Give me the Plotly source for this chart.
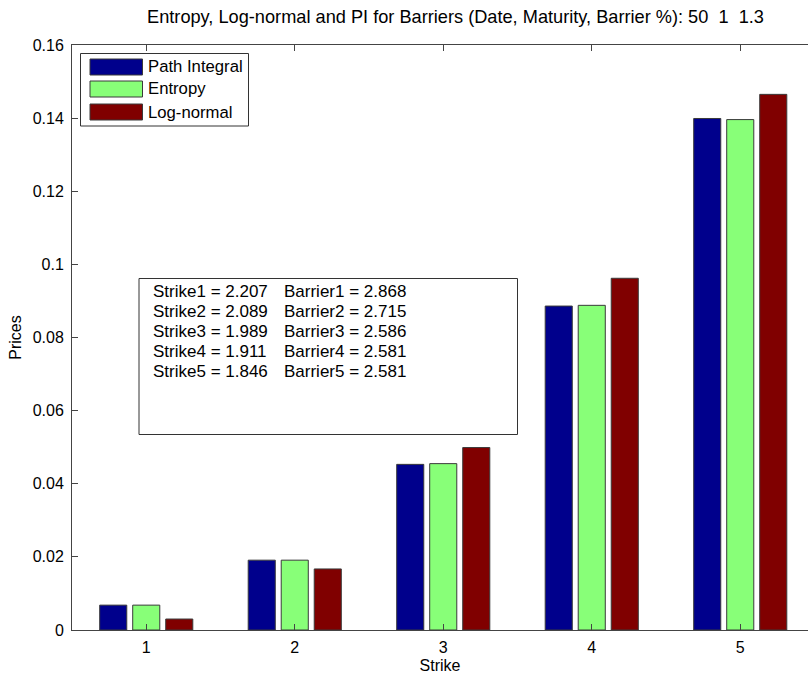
import plotly.graph_objects as go

strikes_cat = [1, 2, 3, 4, 5]
path_integral = [0.0068, 0.0191, 0.0453, 0.0886, 0.1399]
entropy = [0.0068, 0.0191, 0.0455, 0.0888, 0.1396]
log_normal = [0.0030, 0.0167, 0.0499, 0.0962, 0.1465]
series_names = ["Path Integral", "Entropy", "Log-normal"]
series_colors = ["#00008C", "#88FF78", "#800000"]
strike_vals = ["2.207", "2.089", "1.989", "1.911", "1.846"]
barrier_vals = ["2.868", "2.715", "2.586", "2.581", "2.581"]
title_text = "Entropy, Log-normal and PI for Barriers (Date, Maturity, Barrier %): 50  1  1.3"

W, H = 808, 674
ML, MR, MT, MB = 72, 0, 45, 44
PW, PH = W - ML - MR, H - MT - MB

def px(x):
    return (x - ML) / PW

def py(y):
    return (H - MB - y) / PH

FONT = "Liberation Sans, Arial, sans-serif"
fig = go.Figure()
for name, vals, col in zip(series_names, [path_integral, entropy, log_normal], series_colors):
    fig.add_trace(go.Bar(x=strikes_cat, y=vals, name=name, marker_color=col,
                         marker_line=dict(color="#3a3a3a", width=1), showlegend=False))

shapes = []
annotations = []
# legend box
shapes.append(dict(type="rect", xref="paper", yref="paper", x0=px(80.5), x1=px(248.5), y0=py(126), y1=py(53.5),
                   line=dict(color="#333", width=1), fillcolor="white", layer="above"))
rows = [(59, 75), (81, 97), (104, 120)]
for (y0, y1), name, col in zip(rows, series_names, series_colors):
    shapes.append(dict(type="rect", xref="paper", yref="paper", x0=px(90), x1=px(142.5), y0=py(y1), y1=py(y0),
                       line=dict(color="#3a3a3a", width=1), fillcolor=col, layer="above"))
    annotations.append(dict(xref="paper", yref="paper", x=px(146), y=py((y0 + y1) / 2), text=name, showarrow=False,
                            xanchor="left", yanchor="middle", font=dict(size=16.7, color="black", family=FONT)))
# text box
shapes.append(dict(type="rect", xref="paper", yref="paper", x0=px(139), x1=px(517.5), y0=py(434.5), y1=py(278.5),
                   line=dict(color="#333", width=1), fillcolor="white", layer="above"))
row_y = [291.5, 311.5, 331.5, 351.5, 371.5]
for i, (s, b, yy) in enumerate(zip(strike_vals, barrier_vals, row_y)):
    annotations.append(dict(xref="paper", yref="paper", x=px(150.5), y=py(yy), text=f"Strike{i+1} = {s}",
                            showarrow=False, xanchor="left", yanchor="middle",
                            font=dict(size=17, color="black", family=FONT)))
    annotations.append(dict(xref="paper", yref="paper", x=px(281.5), y=py(yy), text=f"Barrier{i+1} = {b}",
                            showarrow=False, xanchor="left", yanchor="middle",
                            font=dict(size=17, color="black", family=FONT)))

fig.update_layout(
    width=W, height=H,
    margin=dict(l=ML, r=MR, t=MT, b=MB, pad=0),
    paper_bgcolor="white", plot_bgcolor="white",
    barmode="group", bargap=0.333, bargroupgap=0.18,
    title=dict(text=title_text, x=455.5 / W, xanchor="center", y=1 - 17 / H, yanchor="middle",
               font=dict(size=18.2, color="black", family=FONT)),
    font=dict(family=FONT, size=16, color="black"),
    shapes=shapes, annotations=annotations,
    xaxis=dict(range=[0.5, 0.5 + PW / 148.5], tickvals=strikes_cat, ticks="inside", ticklen=6,
               tickcolor="#444", showline=True, linecolor="#444", linewidth=1, mirror="ticks",
               showgrid=False, zeroline=False, ticklabelstandoff=3,
               title=dict(text="Strike", standoff=5, font=dict(size=16)),
               tickfont=dict(size=16, family=FONT, color="black")),
    yaxis=dict(range=[0, 0.16], dtick=0.02, ticks="inside", ticklen=6, tickcolor="#444",
               showline=True, linecolor="#444", linewidth=1, showgrid=False, zeroline=False,
               ticklabelstandoff=4,
               title=dict(text="Prices", standoff=7, font=dict(size=16)),
               tickfont=dict(size=16, family=FONT, color="black")),
)
fig.write_html("out.html", config={"displayModeBar": False},
               post_script="document.body.style.margin='0';document.body.style.overflow='hidden';")
